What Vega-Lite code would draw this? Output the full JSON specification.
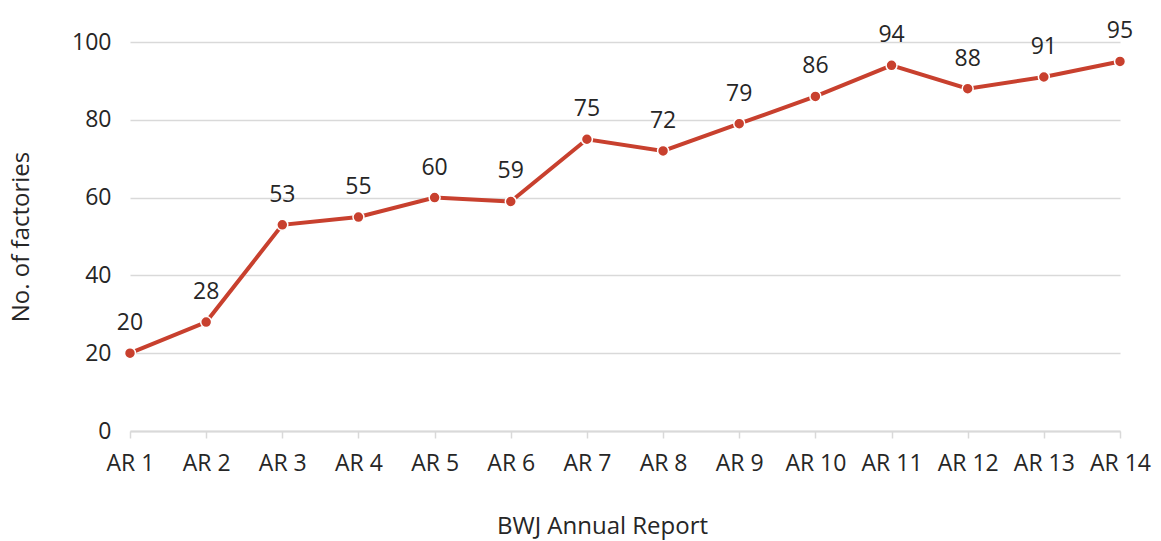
{
  "$schema": "https://vega.github.io/schema/vega-lite/v6.json",
  "width": 990,
  "height": 389,
  "autosize": {"type": "none"},
  "padding": {"left": 130, "top": 42, "right": 41, "bottom": 110},
  "background": "white",
  "config": {
    "view": {"stroke": null},
    "font": "Open Sans",
    "axis": {
      "labelFont": "Open Sans",
      "titleFont": "Open Sans",
      "labelFontSize": 23,
      "titleFontSize": 24,
      "labelColor": "#262626",
      "titleColor": "#262626",
      "titleFontWeight": "normal",
      "gridColor": "#d9d9d9",
      "domainColor": "#d9d9d9",
      "tickColor": "#d9d9d9",
      "labelOverlap": false
    }
  },
  "data": {
    "values": [
      {"report": "AR 1", "factories": 20},
      {"report": "AR 2", "factories": 28},
      {"report": "AR 3", "factories": 53},
      {"report": "AR 4", "factories": 55},
      {"report": "AR 5", "factories": 60},
      {"report": "AR 6", "factories": 59},
      {"report": "AR 7", "factories": 75},
      {"report": "AR 8", "factories": 72},
      {"report": "AR 9", "factories": 79},
      {"report": "AR 10", "factories": 86},
      {"report": "AR 11", "factories": 94},
      {"report": "AR 12", "factories": 88},
      {"report": "AR 13", "factories": 91},
      {"report": "AR 14", "factories": 95}
    ]
  },
  "encoding": {
    "x": {
      "field": "report",
      "type": "ordinal",
      "sort": null,
      "scale": {"type": "point", "padding": 0},
      "axis": {
        "title": "BWJ Annual Report",
        "titleX": 472,
        "labelAngle": 0,
        "domainWidth": 2,
        "tickSize": 7,
        "tickWidth": 1.5,
        "labelPadding": 14,
        "titlePadding": 39,
        "grid": false
      }
    },
    "y": {
      "field": "factories",
      "type": "quantitative",
      "scale": {"domain": [0, 100]},
      "axis": {
        "title": "No. of factories",
        "values": [0, 20, 40, 60, 80, 100],
        "domain": false,
        "ticks": false,
        "labelPadding": 19,
        "titlePadding": 38,
        "gridWidth": 1.5
      }
    }
  },
  "layer": [
    {
      "mark": {"type": "line", "color": "#c8402e", "strokeWidth": 4}
    },
    {
      "mark": {"type": "point", "filled": true, "color": "#c8402e", "size": 120, "stroke": "white", "strokeWidth": 1.5, "opacity": 1}
    },
    {
      "mark": {"type": "text", "fontSize": 23, "font": "Open Sans", "color": "#262626", "baseline": "alphabetic", "dy": -23},
      "encoding": {"text": {"field": "factories", "type": "quantitative"}}
    }
  ]
}
